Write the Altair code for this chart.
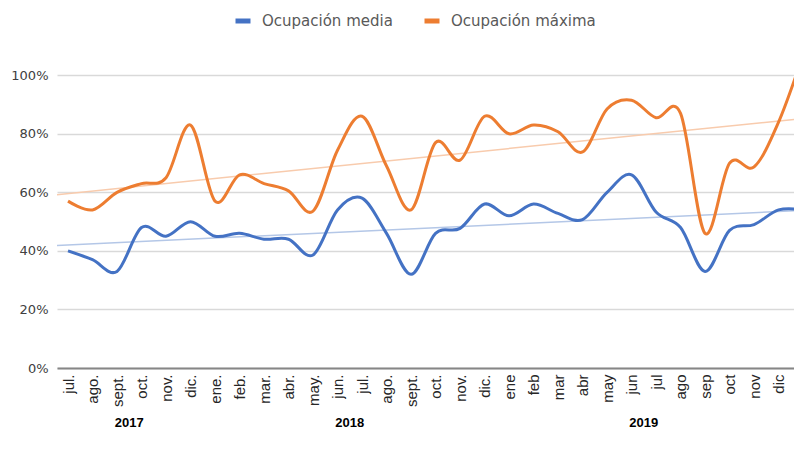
import altair as alt
import pandas as pd

# ---- data ----
months = ["jul.", "ago.", "sept.", "oct.", "nov.", "dic.",
          "ene.", "feb.", "mar.", "abr.", "may.", "jun.", "jul.", "ago.", "sept.", "oct.", "nov.", "dic.",
          "ene", "feb", "mar", "abr", "may", "jun", "jul", "ago", "sep", "oct", "nov", "dic",
          ""]
years = ["2017"] * 6 + ["2018"] * 12 + ["2019"] * 12
media = [40, 37, 33, 48, 45, 50,
         45, 46, 44, 44, 38.6, 54, 58, 46, 32, 46, 47.7, 56,
         52, 56, 52.8, 50.7, 60, 66, 53.3, 48, 33, 47, 49, 54,
         54]
maxima = [57, 54, 60, 63, 65, 83,
          57, 66, 63, 60.5, 53.6, 74.4, 86, 69, 54, 77, 71, 86,
          80, 83, 80.7, 73.8, 88.5, 91.5, 85.5, 87, 46, 70, 68.7, 84,
          107]
series_names = ["Ocupación media", "Ocupación máxima"]
series_colors = ["#4472C4", "#ED7D31"]
trend_colors = ["#B4C7E7", "#F8CBAD"]
y_ticks = [0, 20, 40, 60, 80, 100]

rows = []
for i in range(len(months)):
    rows.append({"idx": i, "serie": series_names[0], "valor": media[i]})
    rows.append({"idx": i, "serie": series_names[1], "valor": maxima[i]})
df = pd.DataFrame(rows)
df_years = pd.DataFrame({"idx": list(range(len(years))), "anio": years})

label_expr = "[" + ",".join("'" + m + "'" for m in months) + "][datum.value]"

x_scale = alt.Scale(domain=[-0.449, 29.63], nice=False, zero=False)
y_scale = alt.Scale(domain=[0, 110], nice=False)

x_axis = alt.Axis(values=list(range(30)), labelExpr=label_expr, labelAngle=270,
                  grid=False, ticks=False, domainColor="#868686", domainWidth=2,
                  labelFont="Liberation Sans", labelFontSize=15, labelColor="#262626",
                  labelPadding=6, title=None, labelOverlap=False)
y_axis = alt.Axis(values=y_ticks, labelExpr="datum.value + '%'", grid=True,
                  gridColor="#d9d9d9", gridWidth=1.5, domain=False, ticks=False,
                  labelFont="DejaVu Sans", labelFontSize=13, labelColor="#404040",
                  labelPadding=9, title=None)
legend = alt.Legend(title=None, orient="none", legendX=176, legendY=-35,
                    direction="horizontal", symbolType="stroke",
                    symbolStrokeWidth=5, symbolSize=225,
                    labelFont="DejaVu Sans", labelFontSize=15,
                    labelColor="#595959", columnPadding=21, labelOffset=9)

base = alt.Chart(df)

trend = base.transform_regression(
    "idx", "valor", groupby=["serie"], extent=[-0.45, 30]
).mark_line(clip=True, strokeWidth=1.5).encode(
    x=alt.X("idx:Q", scale=x_scale, axis=x_axis),
    y=alt.Y("valor:Q", scale=y_scale, axis=y_axis),
    color=alt.Color("serie:N", scale=alt.Scale(domain=series_names, range=trend_colors),
                    legend=None),
)

lines = base.mark_line(interpolate="cardinal", strokeWidth=3, clip=True).encode(
    x=alt.X("idx:Q", scale=x_scale, axis=x_axis),
    y=alt.Y("valor:Q", scale=y_scale, axis=y_axis),
    color=alt.Color("serie:N", scale=alt.Scale(domain=series_names, range=series_colors),
                    legend=legend),
    order=alt.Order("idx:Q"),
)

year_text = alt.Chart(df_years).transform_aggregate(
    pos="mean(idx)", groupby=["anio"]
).mark_text(font="Liberation Sans", fontWeight="bold", fontSize=13, color="#000000").encode(
    x=alt.X("pos:Q", scale=x_scale, axis=x_axis),
    y=alt.value(377),
    text="anio:N",
)

chart = alt.layer(trend, lines, year_text).resolve_scale(color="independent").properties(
    width=737, height=322,
    autosize=alt.AutoSizeParams(type="none"),
    padding={"left": 49, "top": 38, "right": 0, "bottom": 72},
).configure_view(stroke=None)

chart.save("out.html", embed_options={"renderer": "svg", "actions": False})
